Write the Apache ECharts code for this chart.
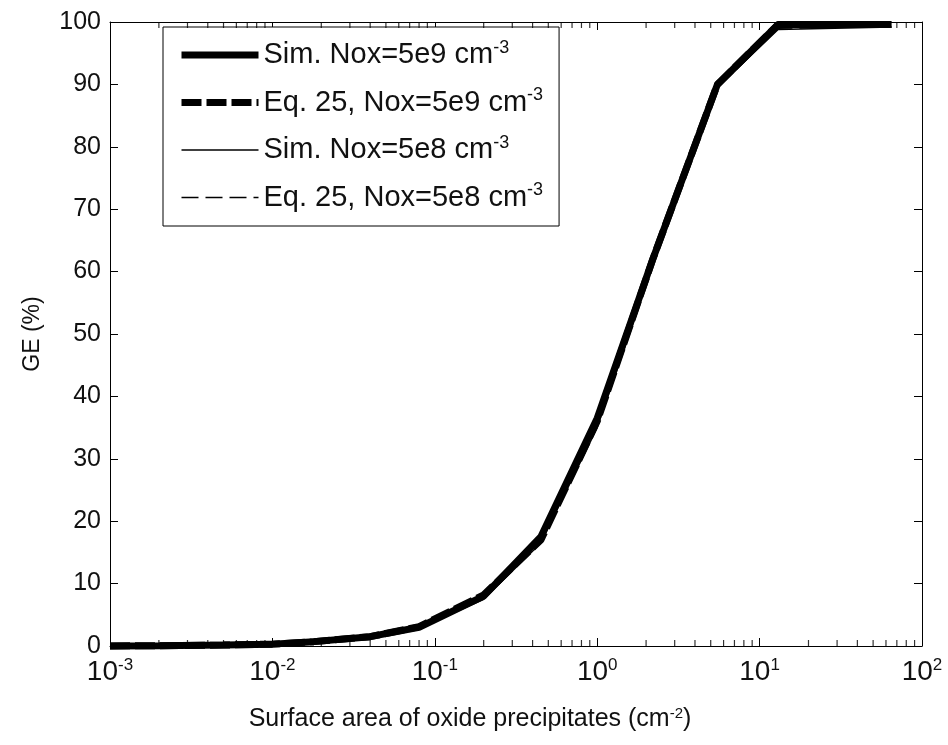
<!DOCTYPE html>
<html>
<head>
<meta charset="utf-8">
<script src="https://cdn.jsdelivr.net/npm/echarts@6/dist/echarts.min.js"></script>
<style>
  html, body { margin: 0; padding: 0; background: #fff; }
  #chart { width: 948px; height: 745px; }
</style>
</head>
<body>
<div id="chart"></div>
<script>
// surface area (cm^-2), shared by all curves
const area = [0.001, 0.002, 0.005, 0.01, 0.018, 0.04, 0.08, 0.2, 0.45, 1.0, 2.2, 5.5, 13, 65]

// GE (%) for each curve
const simHigh = [0, 0.05, 0.15, 0.3, 0.7, 1.5, 3.0, 8.0, 17.5, 36.5, 62, 90, 99.6, 99.6]
const eqHigh = [0, 0.05, 0.15, 0.3, 0.7, 1.5, 3.1, 8.2, 17.0, 36.0, 62, 90, 99.6, 99.6]
const simLow = [0, 0.05, 0.15, 0.3, 0.7, 1.4, 2.8, 7.5, 16.5, 35.0, 61, 89.5, 98.8, 99.2]
const eqLow = [0, 0.05, 0.15, 0.3, 0.7, 1.4, 2.9, 7.7, 16.8, 35.5, 61.5, 89.8, 99.0, 99.3]

const seriesNames = [
    'Sim. Nox=5e9 cm{sup|-3}',
    'Eq. 25, Nox=5e9 cm{sup|-3}',
    'Sim. Nox=5e8 cm{sup|-3}',
    'Eq. 25, Nox=5e8 cm{sup|-3}',
]

const yTicks = [0, 10, 20, 30, 40, 50, 60, 70, 80, 90, 100]
const decades = [0.001, 0.01, 0.1, 1, 10]
const minorSteps = [2, 3, 4, 5, 6, 7, 8, 9]

// log axis minor ticks (2..9 in every decade)
const minorX = []
decades.forEach(d => minorSteps.forEach(m => minorX.push(d * m)))

const font = 'Liberation Sans, Arial, sans-serif'
const sup = size => ({ fontSize: size, fontFamily: font, color: '#111', padding: [0, 0, Math.round(size * 0.8), 0] })

const lineStyles = [
    { width: 7, type: 'solid' },
    { width: 7, type: [20, 5] },
    { width: 1.5, type: 'solid' },
    { width: 1.5, type: [17, 7] },
]
const curves = [simHigh, eqHigh, simLow, eqLow]

const pairs = ys => area.map((x, i) => [x, ys[i]])

// small scatter marks used as minor ticks on the bottom / top edge
const tickSeries = (yEdge, offset) => ({
    name: 'minor' + yEdge,
    type: 'scatter',
    xAxisIndex: 0,
    yAxisIndex: 0,
    silent: true,
    clip: false,
    z: 20,
    symbol: 'rect',
    symbolSize: [1.2, 6],
    symbolOffset: [0, offset],
    itemStyle: { color: '#000' },
    data: minorX.map(x => [x, yEdge]),
})

const chart = echarts.init(document.getElementById('chart'))
chart.setOption({
    backgroundColor: '#fff',
    animation: false,
    grid: { left: 110, right: 26, top: 22, bottom: 99 },
    legend: {
        orient: 'vertical',
        left: 163,
        top: 27,
        padding: [12, 16, 14, 15],
        backgroundColor: '#fff',
        borderColor: '#000',
        borderWidth: 1,
        itemWidth: 77,
        itemHeight: 14,
        itemGap: 17,
        textStyle: {
            fontSize: 29,
            fontFamily: font,
            color: '#111',
            padding: [0, 0, 0, 0],
            rich: { sup: sup(18) },
        },
        data: seriesNames.map((name, i) => ({
            name,
            itemStyle: { opacity: 0 },
            lineStyle: { color: '#000', width: lineStyles[i].width, type: lineStyles[i].type },
        })),
    },
    xAxis: [
        {
            type: 'log',
            logBase: 10,
            min: 0.001,
            max: 100,
            position: 'bottom',
            name: 'Surface area of oxide precipitates (cm{sup|-2})',
            nameLocation: 'middle',
            nameGap: 60,
            nameTextStyle: {
                fontSize: 25,
                fontFamily: font,
                color: '#111',
                padding: [0, 92, 0, 0],
                rich: { sup: sup(15) },
            },
            splitLine: { show: false },
            axisLine: { onZero: false, lineStyle: { color: '#000', width: 1 } },
            axisTick: { inside: true, length: 8, lineStyle: { color: '#000' } },
            axisLabel: {
                margin: 11,
                fontSize: 28,
                fontFamily: font,
                color: '#111',
                formatter: v => '10{sup|' + Math.round(Math.log10(v)) + '}',
                rich: { sup: sup(17) },
            },
        },
        {
            type: 'log',
            logBase: 10,
            min: 0.001,
            max: 100,
            position: 'top',
            splitLine: { show: false },
            axisLine: { onZero: false, lineStyle: { color: '#000', width: 1 } },
            axisLabel: { show: false },
            axisTick: { inside: true, length: 8, lineStyle: { color: '#000' } },
        },
    ],
    yAxis: [
        {
            type: 'value',
            min: 0,
            max: 100,
            interval: 10,
            name: 'GE (%)',
            nameLocation: 'middle',
            nameGap: 66,
            nameTextStyle: { fontSize: 23, fontFamily: font, color: '#111' },
            splitLine: { show: false },
            axisLine: { show: true, onZero: false, lineStyle: { color: '#000', width: 1 } },
            axisTick: { show: true, inside: true, length: 8, lineStyle: { color: '#000' } },
            axisLabel: {
                margin: 9,
                fontSize: 25,
                fontFamily: font,
                color: '#111',
                customValues: yTicks,
            },
        },
        {
            type: 'value',
            min: 0,
            max: 100,
            interval: 10,
            position: 'right',
            splitLine: { show: false },
            axisLine: { show: true, onZero: false, lineStyle: { color: '#000', width: 1 } },
            axisTick: { show: true, inside: true, length: 8, lineStyle: { color: '#000' } },
            axisLabel: { show: false },
        },
    ],
    series: curves.map((ys, i) => ({
        name: seriesNames[i],
        type: 'line',
        xAxisIndex: 0,
        yAxisIndex: 0,
        data: pairs(ys),
        symbol: 'none',
        clip: false,
        itemStyle: { color: '#000' },
        lineStyle: { color: '#000', width: lineStyles[i].width, type: lineStyles[i].type },
        z: 10 - i,
    })).concat([tickSeries(0, -3), tickSeries(100, 3)]),
})
</script>
</body>
</html>
